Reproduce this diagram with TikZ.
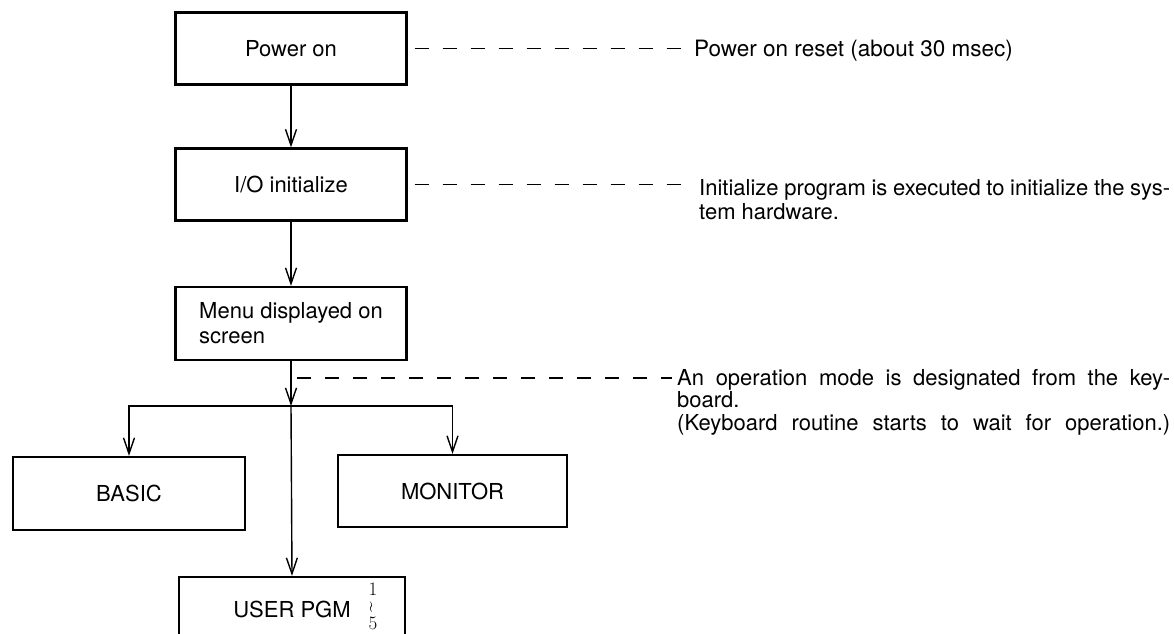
\documentclass[tikz,border=0pt]{standalone}
\usepackage{fontspec}
\setmainfont{TeX Gyre Heros}
\newfontfamily\digitfont{Latin Modern Roman}
\usetikzlibrary{arrows.meta}

\begin{document}
\begin{tikzpicture}[x=1pt,y=-1pt,
  box/.style={draw, line width=2.2pt, minimum width=231pt, minimum height=72pt,
    inner sep=0pt, font=\fontsize{22}{25}\selectfont},
  flow/.style={line width=1.4pt,
    -{Straight Barb[length=16pt,width=11pt,line width=1.4pt]}},
  leader/.style={line width=1.4pt, dash pattern=on 14pt off 14pt},
  notetext/.style={anchor=base west, inner sep=0pt}
]
\path[use as bounding box] (0,0) rectangle (1174,633);
\clip (0,0) rectangle (1174,633);

% main column
\node[box] (power) at (291,48.5) {Power on};
\node[box] (io) at (291,184.5) {I/O initialize};
\node[box, minimum height=73pt, align=left] (menu) at (291,323.5)
  {Menu displayed on\\screen};

% branch targets
\node[box, minimum width=232pt, minimum height=73pt] (basic) at (129,493.5) {BASIC};
\node[box, minimum width=229pt, minimum height=72pt] (monitor) at (452.5,491) {MONITOR};
\node[box, minimum width=226pt, minimum height=64pt] (user) at (292,609) {USER PGM};
\node[inner sep=0pt, align=center, font=\digitfont\fontsize{19}{17}\selectfont]
  (range) at (373,606) {1\\\rotatebox{90}{\textasciitilde}\\5};

% flow connectors
\coordinate (split) at (291,406);
\coordinate (tap) at (291,378);
\draw[flow] (power) -- (io);
\draw[flow] (io) -- (menu);
\draw[flow] (menu) -- (split);
\draw[flow] (split) -- (user.north);
\draw[flow] (split) -| (basic.north);
\draw[flow] (split) -| (monitor.north);

% explanatory notes
\node[notetext, font=\fontsize{22.5}{24}\selectfont] (powernote) at (694,56)
  {Power on reset (about 30 msec)};
\node[notetext, font=\fontsize{22}{24}\selectfont] (ionote) at (699,195)
  {\begin{tabular}[t]{@{}l@{}}
    \makebox[471pt][s]{Initialize program is executed to initialize the sys-}\\
    tem hardware.
  \end{tabular}};
\node[notetext, font=\fontsize{22}{22}\selectfont] (modenote) at (677,385)
  {\begin{tabular}[t]{@{}l@{}}
    \makebox[493pt][s]{An operation mode is designated from the key-}\\
    board.\\
    \makebox[493pt][s]{(Keyboard routine starts to wait for operation.)}
  \end{tabular}};

% dashed leaders
\draw[leader] ([xshift=7pt]power.east) -- ([xshift=-2pt]powernote.west |- power.east);
\draw[leader] ([xshift=7pt]io.east) -- ([xshift=-8pt]ionote.west |- io.east);
\draw[leader] ([xshift=6pt]tap) -- ([xshift=-5pt]modenote.west |- tap);
\end{tikzpicture}
\end{document}
